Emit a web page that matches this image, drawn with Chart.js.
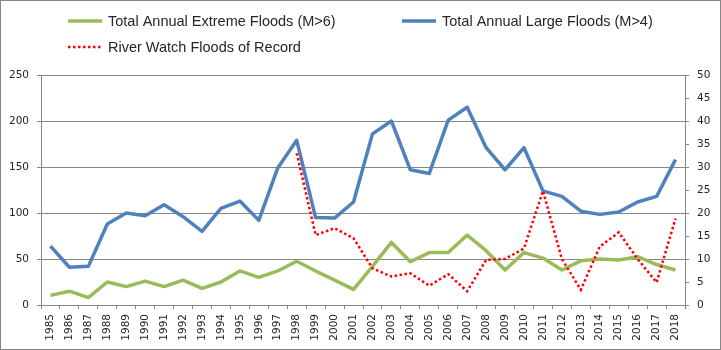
<!DOCTYPE html>
<html>
<head>
<meta charset="utf-8">
<script src="https://cdn.jsdelivr.net/npm/chart.js@4"></script>
<style>
html,body{margin:0;padding:0;background:#fff;}
canvas{display:block;}
</style>
</head>
<body>
<canvas id="c" width="721" height="350"></canvas>
<script>
const years = ['1985','1986','1987','1988','1989','1990','1991','1992','1993','1994','1995','1996','1997','1998','1999','2000','2001','2002','2003','2004','2005','2006','2007','2008','2009','2010','2011','2012','2013','2014','2015','2016','2017','2018'];
const extremeFloods = [10.5,15,8,25,20,26,20,27,18,25,37,30,37,47.5,37,27,17,42,68,47,57,57,76,59,38,57,51,38,48,50,49,52.5,44,38];
const largeFloods = [64,41,42,88,100,97,109,96,80,105,113,92,149,179,95,94.5,112,186,200,147,143,201,215,171,147,171,124,118,102,98.5,101,112,118,158];
const floodsOfRecord = [null,null,null,null,null,null,null,null,null,null,null,null,null,33,15.2,16.7,14.5,8,6.2,6.9,4.2,6.7,3,9.8,10,12.3,24.8,10,3.3,12.7,15.8,10,4.9,18.8];
const leftTicks = {min:0, max:250, step:50};
const rightTicks = {min:0, max:50, step:5};

const GRID = '#868686';
const TXT = '#262626';
const TICKFONT = {family:"'DejaVu Sans', Verdana, sans-serif", size:10.5};

const frameAndLegend = {
  id:'frameAndLegend',
  beforeDraw(chart){
    const ctx = chart.ctx;
    ctx.save();
    ctx.fillStyle = '#fff';
    ctx.fillRect(0,0,chart.width,chart.height);
    ctx.restore();
  },
  afterDraw(chart){
    const ctx = chart.ctx;
    ctx.save();
    ctx.strokeStyle = GRID;
    ctx.lineWidth = 1;
    ctx.strokeRect(0.5,0.5,chart.width-1,chart.height-1);
    const items = [
      {ds:1, x:68, y:21},
      {ds:2, x:402, y:21},
      {ds:0, x:68, y:47}
    ];
    ctx.font = "14.5px 'Liberation Sans', Arial, sans-serif";
    ctx.textBaseline = 'middle';
    ctx.textAlign = 'left';
    items.forEach(it=>{
      const d = chart.data.datasets[it.ds];
      ctx.beginPath();
      ctx.strokeStyle = d.borderColor;
      ctx.lineWidth = d.borderWidth;
      ctx.setLineDash(d.borderDash || []);
      ctx.moveTo(it.x, it.y);
      ctx.lineTo(it.x+34, it.y);
      ctx.stroke();
      ctx.setLineDash([]);
      ctx.fillStyle = TXT;
      ctx.fillText(d.label, it.x+40, it.y+1);
    });
    ctx.restore();
  }
};

new Chart(document.getElementById('c'), {
  type:'line',
  data:{
    labels: years,
    datasets:[
      {label:'River Watch Floods of Record', data:floodsOfRecord, yAxisID:'y1',
       borderColor:'#FF0000', borderWidth:2.5, borderDash:[2.5,2.5], pointRadius:0, tension:0, spanGaps:false},
      {label:'Total Annual Extreme Floods (M>6)', data:extremeFloods, yAxisID:'y',
       borderColor:'#9BBB59', borderWidth:3.5, pointRadius:0, tension:0, borderJoinStyle:'round'},
      {label:'Total Annual Large Floods (M>4)', data:largeFloods, yAxisID:'y',
       borderColor:'#4F81BD', borderWidth:3.5, pointRadius:0, tension:0, borderJoinStyle:'round'}
    ]
  },
  options:{
    responsive:false,
    maintainAspectRatio:false,
    animation:false,
    layout:{padding:{top:75,left:0,right:0,bottom:0}},
    plugins:{legend:{display:false}, tooltip:{enabled:false}},
    scales:{
      x:{
        offset:true,
        grid:{display:true, drawOnChartArea:false, offset:true, tickLength:4, color:GRID},
        border:{display:true, color:GRID},
        ticks:{autoSkip:false, minRotation:90, maxRotation:90, padding:5, color:TXT, font:TICKFONT},
        afterFit(s){ s.height = 45; }
      },
      y:{
        position:'left',
        min:leftTicks.min, max:leftTicks.max,
        ticks:{stepSize:leftTicks.step, padding:8, color:TXT, font:TICKFONT},
        grid:{color:GRID, tickLength:4, drawOnChartArea:true},
        border:{display:true, color:GRID},
        afterFit(s){ s.width = 41; }
      },
      y1:{
        position:'right',
        min:rightTicks.min, max:rightTicks.max,
        ticks:{stepSize:rightTicks.step, padding:8, color:TXT, font:TICKFONT},
        grid:{color:GRID, tickLength:4, drawOnChartArea:false},
        border:{display:true, color:GRID},
        afterFit(s){ s.width = 36; }
      }
    }
  },
  plugins:[frameAndLegend]
});
</script>
</body>
</html>
